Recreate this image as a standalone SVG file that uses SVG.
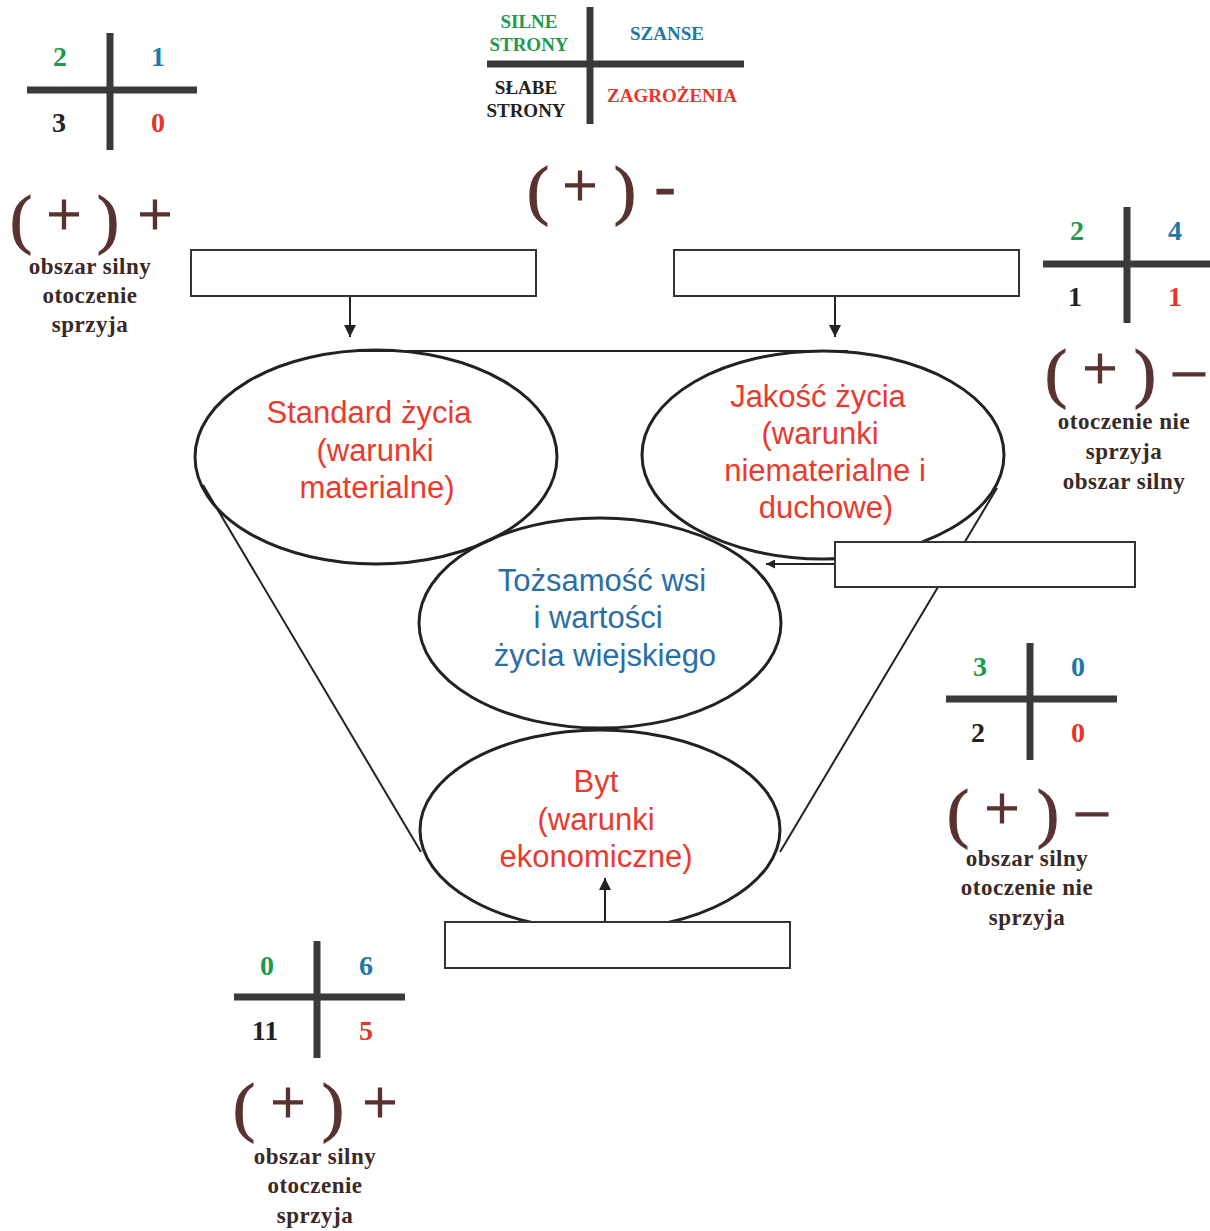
<svg xmlns="http://www.w3.org/2000/svg" width="1210" height="1231" viewBox="0 0 1210 1231">
<defs>
<style>
.cross{stroke:#3a3a3a;stroke-width:7;fill:none}
.num{font-family:"Liberation Serif",serif;font-weight:bold;font-size:28px;text-anchor:middle}
.swot{font-family:"Liberation Serif",serif;font-weight:bold;font-size:19px;text-anchor:middle}
.g{fill:#1f9a4c}.b{fill:#1f78a6}.k{fill:#222}.r{fill:#e8352c}
.sign{font-family:"Liberation Serif",serif;fill:#5a3230;stroke:#5a3230;stroke-width:1.2;text-anchor:middle}
.par{font-size:66px}
.pl{font-size:62px}
.lab{font-family:"Liberation Serif",serif;font-weight:bold;font-size:23px;letter-spacing:0.5px;fill:#3a2925;text-anchor:middle}
.ell{fill:none;stroke:#222;stroke-width:3}
.box{fill:#fff;stroke:#333;stroke-width:2}
.et{font-family:"Liberation Sans",Arial,sans-serif;font-size:31px;text-anchor:middle}
.er{fill:#ea3a2e}.eb{fill:#2a6ea6}
.con{stroke:#222;stroke-width:2;fill:none}
</style>
<marker id="ah" viewBox="0 0 10 10" refX="10" refY="5" markerWidth="6" markerHeight="6" orient="auto" markerUnits="strokeWidth">
<path d="M0,0 L10,5 L0,10 z" fill="#222"/>
</marker>
<marker id="ah2" viewBox="0 0 10 10" refX="10" refY="5" markerWidth="4.5" markerHeight="4.5" orient="auto" markerUnits="strokeWidth">
<path d="M0,0 L10,5 L0,10 z" fill="#222"/>
</marker>
</defs>
<rect width="1210" height="1231" fill="#fff"/>

<g id="swot-legend">
<line class="cross" x1="487" y1="64" x2="744" y2="64"/>
<line class="cross" x1="590" y1="7" x2="590" y2="124"/>
<text class="swot g" x="529" y="28">SILNE</text>
<text class="swot g" x="529" y="51">STRONY</text>
<text class="swot b" x="667" y="40">SZANSE</text>
<text class="swot k" x="526" y="94">SŁABE</text>
<text class="swot k" x="526" y="117">STRONY</text>
<text class="swot r" x="672" y="102">ZAGROŻENIA</text>
<g class="sign">
<text class="par" x="538" y="212">(</text>
<text class="pl" x="580" y="206">+</text>
<text class="par" x="625" y="212">)</text>
<text class="pl" x="665" y="206">-</text>
</g>
</g>

<g id="score-top-left">
<line class="cross" x1="27" y1="90" x2="197" y2="90"/>
<line class="cross" x1="110" y1="33" x2="110" y2="150"/>
<text class="num g" x="60" y="66">2</text>
<text class="num b" x="158" y="66">1</text>
<text class="num k" x="59" y="132">3</text>
<text class="num r" x="158" y="132">0</text>
<g class="sign">
<text class="par" x="21" y="241">(</text>
<text class="pl" x="64" y="235">+</text>
<text class="par" x="108" y="241">)</text>
<text class="pl" x="155" y="235">+</text>
</g>
<text class="lab" x="90" y="274">obszar silny</text>
<text class="lab" x="90" y="303">otoczenie</text>
<text class="lab" x="90" y="332">sprzyja</text>
</g>

<g id="score-top-right">
<line class="cross" x1="1043" y1="264" x2="1210" y2="264"/>
<line class="cross" x1="1127" y1="207" x2="1127" y2="323"/>
<text class="num g" x="1077" y="240">2</text>
<text class="num b" x="1175" y="240">4</text>
<text class="num k" x="1075" y="306">1</text>
<text class="num r" x="1175" y="306">1</text>
<g class="sign">
<text class="par" x="1056" y="395">(</text>
<text class="pl" x="1100" y="389">+</text>
<text class="par" x="1145" y="395">)</text>
<text class="pl" x="1189" y="389">–</text>
</g>
<text class="lab" x="1124" y="429">otoczenie nie</text>
<text class="lab" x="1124" y="459">sprzyja</text>
<text class="lab" x="1124" y="489">obszar silny</text>
</g>

<g id="score-right">
<line class="cross" x1="946" y1="699" x2="1117" y2="699"/>
<line class="cross" x1="1030" y1="643" x2="1030" y2="760"/>
<text class="num g" x="980" y="676">3</text>
<text class="num b" x="1078" y="676">0</text>
<text class="num k" x="978" y="742">2</text>
<text class="num r" x="1078" y="742">0</text>
<g class="sign">
<text class="par" x="958" y="835">(</text>
<text class="pl" x="1002" y="829">+</text>
<text class="par" x="1048" y="835">)</text>
<text class="pl" x="1092" y="829">–</text>
</g>
<text class="lab" x="1027" y="866">obszar silny</text>
<text class="lab" x="1027" y="895">otoczenie nie</text>
<text class="lab" x="1027" y="925">sprzyja</text>
</g>

<g id="score-bottom">
<line class="cross" x1="234" y1="997" x2="405" y2="997"/>
<line class="cross" x1="317" y1="941" x2="317" y2="1058"/>
<text class="num g" x="267" y="975">0</text>
<text class="num b" x="366" y="975">6</text>
<text class="num k" x="265" y="1040">11</text>
<text class="num r" x="366" y="1040">5</text>
<g class="sign">
<text class="par" x="244" y="1129">(</text>
<text class="pl" x="288" y="1123">+</text>
<text class="par" x="333" y="1129">)</text>
<text class="pl" x="380" y="1123">+</text>
</g>
<text class="lab" x="315" y="1164">obszar silny</text>
<text class="lab" x="315" y="1193">otoczenie</text>
<text class="lab" x="315" y="1223">sprzyja</text>
</g>

<g id="connectors">
<line class="con" x1="350" y1="351" x2="848" y2="351" stroke-width="3"/>
<line class="con" x1="203" y1="485" x2="421" y2="852"/>
<line class="con" x1="997" y1="488" x2="780" y2="852"/>
<line class="con" x1="350" y1="296" x2="350" y2="337" marker-end="url(#ah)"/>
<line class="con" x1="835" y1="296" x2="835" y2="337" marker-end="url(#ah)"/>
<line class="con" x1="835" y1="564" x2="766" y2="564" stroke-width="3" marker-end="url(#ah2)"/>
<line class="con" x1="605" y1="922" x2="605" y2="878" marker-end="url(#ah)"/>
</g>

<g id="standard">
<ellipse class="ell" cx="376" cy="457" rx="181" ry="107"/>
<text class="et er" x="369" y="423">Standard życia</text>
<text class="et er" x="375" y="461">(warunki</text>
<text class="et er" x="377" y="498">materialne)</text>
</g>
<g id="jakosc">
<ellipse class="ell" cx="823" cy="455" rx="181" ry="104"/>
<text class="et er" x="818" y="407">Jakość życia</text>
<text class="et er" x="820" y="444">(warunki</text>
<text class="et er" x="825" y="481">niematerialne i</text>
<text class="et er" x="826" y="518">duchowe)</text>
</g>
<g id="tozsamosc">
<ellipse class="ell" cx="600" cy="623" rx="181" ry="105"/>
<text class="et eb" x="602" y="591">Tożsamość wsi</text>
<text class="et eb" x="598" y="628">i wartości</text>
<text class="et eb" x="605" y="666">życia wiejskiego</text>
</g>
<g id="byt">
<ellipse class="ell" cx="600" cy="830" rx="180" ry="100"/>
<text class="et er" x="596" y="792">Byt</text>
<text class="et er" x="596" y="830">(warunki</text>
<text class="et er" x="596" y="867">ekonomiczne)</text>
</g>

<g id="box-top-left"><rect class="box" x="191" y="250" width="345" height="46"/></g>
<g id="box-top-right"><rect class="box" x="674" y="250" width="345" height="46"/></g>
<g id="box-right"><rect class="box" x="835" y="542" width="300" height="45"/></g>
<g id="box-bottom"><rect class="box" x="445" y="922" width="345" height="46"/></g>
</svg>
